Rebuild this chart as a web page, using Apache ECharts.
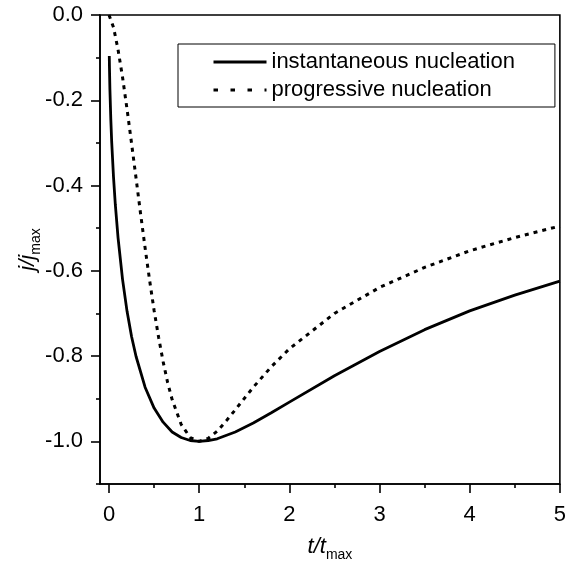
<!DOCTYPE html>
<html>
<head>
<meta charset="utf-8">
<script src="https://cdn.jsdelivr.net/npm/echarts@6/dist/echarts.min.js"></script>
<style>html,body{margin:0;padding:0;background:#fff}#c{width:569px;height:567px}</style>
</head>
<body>
<div id="c"></div>
<script>
var seriesNames = ['instantaneous nucleation', 'progressive nucleation'];
var tInst = [0.003, 0.005, 0.01, 0.02, 0.03, 0.05, 0.07, 0.1, 0.15, 0.2, 0.25, 0.3, 0.4, 0.5, 0.6, 0.7, 0.8, 0.9, 1.0, 1.1, 1.2, 1.4, 1.6, 1.8, 2.0, 2.5, 3.0, 3.5, 4.0, 4.5, 5.0];
var jInst = [-0.096, -0.124, -0.175, -0.245, -0.299, -0.381, -0.445, -0.522, -0.620, -0.695, -0.754, -0.801, -0.873, -0.922, -0.955, -0.978, -0.991, -0.998, -1.000, -0.998, -0.994, -0.978, -0.957, -0.933, -0.908, -0.846, -0.789, -0.738, -0.694, -0.657, -0.624];
var tProg = [0, 0.05, 0.1, 0.15, 0.2, 0.25, 0.3, 0.35, 0.4, 0.45, 0.5, 0.55, 0.6, 0.65, 0.7, 0.8, 0.9, 1.0, 1.1, 1.2, 1.3, 1.4, 1.6, 1.8, 2.0, 2.5, 3.0, 3.5, 4.0, 4.5, 5.0];
var jProg = [0, -0.029, -0.081, -0.146, -0.221, -0.301, -0.383, -0.466, -0.546, -0.622, -0.693, -0.756, -0.813, -0.862, -0.902, -0.960, -0.991, -1.000, -0.993, -0.976, -0.952, -0.926, -0.873, -0.825, -0.783, -0.700, -0.639, -0.592, -0.553, -0.522, -0.495];
var xMajorTicks = [0, 1, 2, 3, 4, 5];
var xMinorTicks = [0.5, 1.5, 2.5, 3.5, 4.5];
var yMajorTicks = [0, -0.2, -0.4, -0.6, -0.8, -1.0];
var yMinorTicks = [-0.1, -0.3, -0.5, -0.7, -0.9, -1.1];

function pairs(xs, ys) { return xs.map(function (x, i) { return [x, ys[i]]; }); }

var FONT = 'Liberation Sans, Arial, sans-serif';
var chart = echarts.init(document.getElementById('c'), null, {renderer: 'canvas'});
var axisLine = {show: true, onZero: false, lineStyle: {color: '#000', width: 1.6}};
var rich = {
  a: {fontFamily: FONT, fontSize: 22, fontStyle: 'italic', color: '#000', lineHeight: 24, verticalAlign: 'bottom'},
  b: {fontFamily: FONT, fontSize: 14, color: '#000', lineHeight: 14, verticalAlign: 'bottom', padding: [0, 0, -4, 0]}
};
chart.setOption({
  animation: false,
  backgroundColor: '#fff',
  grid: {left: 100, right: 6, top: 15, bottom: 79, show: true, borderColor: '#000', borderWidth: 1.6, containLabel: false},
  legend: {
    orient: 'vertical', left: 178, top: 44,
    padding: [6, 40, 5, 34], itemGap: 4,
    borderColor: '#000', borderWidth: 1,
    itemWidth: 53, itemHeight: 14,
    itemStyle: {opacity: 0},
    textStyle: {fontFamily: FONT, fontSize: 22, color: '#000', lineHeight: 24},
    data: [
      {name: seriesNames[0], lineStyle: {width: 3}},
      {name: seriesNames[1], lineStyle: {width: 3, type: [4.5, 12.5]}}
    ]
  },
  xAxis: [{
    type: 'value', min: -0.1, max: 5,
    axisLine: axisLine, splitLine: {show: false},
    axisTick: {show: true, inside: false, length: 9, customValues: xMajorTicks, lineStyle: {color: '#000', width: 1.6}},
    axisLabel: {customValues: xMajorTicks, margin: 20, color: '#000', fontFamily: FONT, fontSize: 22},
    name: '{a|t/t}{b|max}', nameLocation: 'middle', nameGap: 50, nameMoveOverlap: false,
    nameTextStyle: {rich: rich}
  }, {
    type: 'value', min: -0.1, max: 5, position: 'bottom',
    axisLine: {show: false, onZero: false}, splitLine: {show: false}, axisLabel: {show: false},
    axisTick: {show: true, inside: false, length: 4, customValues: xMinorTicks, lineStyle: {color: '#000', width: 1.6}}
  }],
  yAxis: [{
    type: 'value', min: -1.1, max: 0,
    axisLine: axisLine, splitLine: {show: false},
    axisTick: {show: true, inside: false, length: 9, customValues: yMajorTicks, lineStyle: {color: '#000', width: 1.6}},
    axisLabel: {customValues: yMajorTicks, margin: 17, color: '#000', fontFamily: FONT, fontSize: 22,
      formatter: function (v) { return v.toFixed(1); }},
    name: '{a|j/j}{b|max}', nameLocation: 'middle', nameGap: 61, nameRotate: 90, nameMoveOverlap: false,
    nameTextStyle: {rich: rich}
  }, {
    type: 'value', min: -1.1, max: 0, position: 'left',
    axisLine: {show: false, onZero: false}, splitLine: {show: false}, axisLabel: {show: false},
    axisTick: {show: true, inside: false, length: 4, customValues: yMinorTicks, lineStyle: {color: '#000', width: 1.6}}
  }],
  series: [{
    name: seriesNames[0], type: 'line', xAxisIndex: 0, yAxisIndex: 0,
    data: pairs(tInst, jInst), showSymbol: false, symbol: 'none',
    lineStyle: {color: '#000', width: 2.8}, itemStyle: {color: '#000'}
  }, {
    name: seriesNames[1], type: 'line', xAxisIndex: 0, yAxisIndex: 0,
    data: pairs(tProg, jProg), showSymbol: false, symbol: 'none',
    lineStyle: {color: '#000', width: 3, type: [4, 5]}, itemStyle: {color: '#000'}
  }]
});
</script>
</body>
</html>
